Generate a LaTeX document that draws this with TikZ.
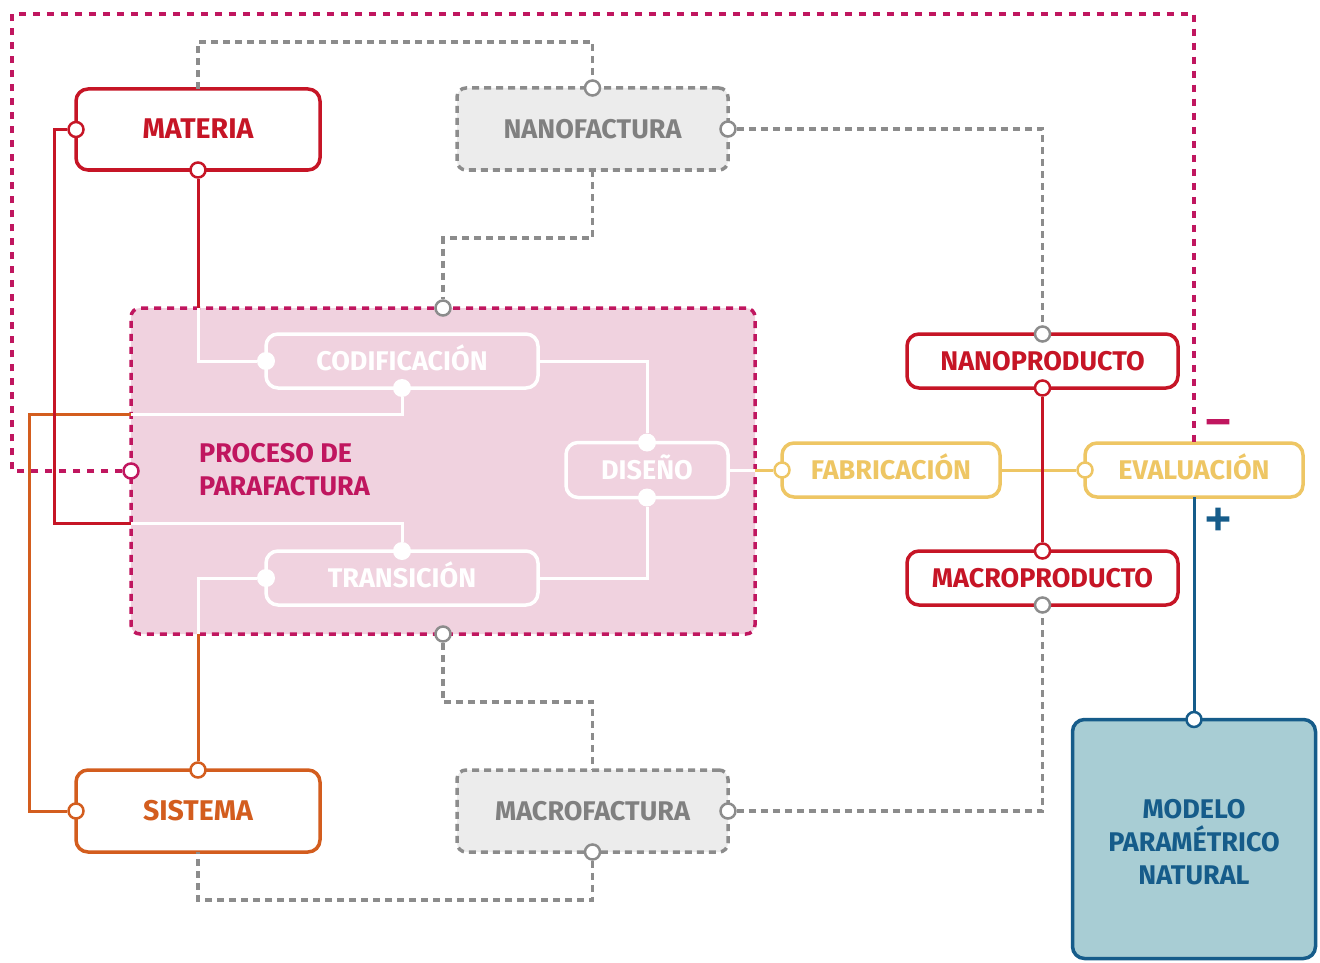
\documentclass[tikz,border=0pt]{standalone}
\usepackage{fontspec}
\setmainfont{Fira Sans}
\newfontfamily\signfont{DejaVu Sans}[FakeBold=4]
\definecolor{cred}{RGB}{198,21,38}
\definecolor{cmag}{RGB}{192,22,95}
\definecolor{cpink}{RGB}{240,210,223}
\definecolor{cgray}{RGB}{140,140,140}
\definecolor{cgfill}{RGB}{236,236,236}
\definecolor{cgtext}{RGB}{128,128,128}
\definecolor{corange}{RGB}{211,93,30}
\definecolor{cyellow}{RGB}{238,198,100}
\definecolor{cblue}{RGB}{22,92,138}
\definecolor{cbfill}{RGB}{168,205,212}
\begin{document}
\begin{tikzpicture}[x=1pt,y=-1pt,
  lbl/.style={font=\bfseries\fontsize{27}{33}\selectfont},
  biglbl/.style={font=\bfseries\fontsize{28.5}{33}\selectfont},
  capbox/.style={text height=19pt, text depth=0pt},
  card/.style={rectangle, rounded corners=12pt, line width=3.5pt, inner sep=0pt, outer sep=0pt, lbl},
  redcard/.style={card, capbox, draw=cred, fill=white, text=cred},
  orangecard/.style={card, capbox, draw=corange, fill=white, text=corange},
  yellowcard/.style={card, capbox, draw=cyellow, fill=white, text=cyellow},
  whitecard/.style={card, capbox, draw=white, text=white},
  graycard/.style={card, capbox, rounded corners=9pt, draw=cgray, fill=cgfill, text=cgtext, dash pattern=on 7pt off 5pt},
  bluecard/.style={card, draw=cblue, fill=cbfill, text=cblue, align=center},
  pinkbox/.style={rectangle, rounded corners=9pt, line width=3.5pt, inner sep=0pt, outer sep=0pt, draw=cmag, fill=cpink, dash pattern=on 7pt off 6pt},
  port/.style={circle, draw=#1, fill=white, line width=2.5pt, minimum size=15pt, inner sep=0pt},
  wport/.style={circle, fill=white, minimum size=18pt, inner sep=0pt},
  wire/.style={line width=3pt},
  gwire/.style={line width=3.5pt, draw=cgray, dash pattern=on 7pt off 5pt},
  mwire/.style={line width=3.5pt, draw=cmag, dash pattern=on 7pt off 7pt},
  sign/.style={font=\signfont\bfseries\fontsize{34}{34}\selectfont, inner sep=0pt}
]
\useasboundingbox (0,0) rectangle (1320,963);

% central process block
\node[pinkbox, minimum width=624pt, minimum height=326pt] (pp) at (443,471) {};
\node[lbl, text=cmag, align=left, anchor=west, inner sep=0pt] (ppl) at (199,470) {PROCESO DE\\PARAFACTURA};

% cards
\node[redcard, biglbl, minimum width=244pt, minimum height=81pt] (materia) at (198,129.5) {MATERIA};
\node[graycard, minimum width=271pt, minimum height=82pt] (nanof) at (592.5,129) {NANOFACTURA};
\node[whitecard, minimum width=272pt, minimum height=54pt] (codif) at (402,361) {CODIFICACIÓN};
\node[whitecard, minimum width=162pt, minimum height=55pt] (diseno) at (647,470) {DISEÑO};
\node[whitecard, minimum width=272pt, minimum height=54pt] (trans) at (402,578) {TRANSICIÓN};
\node[orangecard, biglbl, minimum width=244pt, minimum height=82pt] (sistema) at (198,811) {SISTEMA};
\node[graycard, minimum width=271pt, minimum height=82pt] (macrof) at (592.5,811) {MACROFACTURA};
\node[yellowcard, minimum width=218pt, minimum height=54pt] (fab) at (891,470) {FABRICACIÓN};
\node[yellowcard, minimum width=218pt, minimum height=54pt] (eval) at (1194,470) {EVALUACIÓN};
\node[redcard, minimum width=271pt, minimum height=54pt] (nanop) at (1042.5,361) {NANOPRODUCTO};
\node[redcard, minimum width=271pt, minimum height=54pt] (macrop) at (1042.5,578) {MACROPRODUCTO};
\node[bluecard, minimum width=243pt, minimum height=239pt] (modelo) at (1194,839) {};
\node[lbl, text=cblue, align=center, inner sep=0pt] (modtxt) at (1194,842) {MODELO\\PARAMÉTRICO\\NATURAL};

% ports
\node[port=cred] (mat-l) at (materia.west) {};
\node[port=cred] (mat-b) at (materia.south) {};
\node[port=cgray] (nf-t) at (nanof.north) {};
\node[port=cgray] (nf-r) at (nanof.east) {};
\node[port=cgray] (pp-t) at (pp.north) {};
\node[port=cgray] (pp-b) at (pp.south) {};
\node[port=cmag] (pp-l) at (pp.west) {};
\node[wport] (cod-l) at (codif.west) {};
\node[wport] (cod-b) at (codif.south) {};
\node[wport] (dis-t) at (diseno.north) {};
\node[wport] (dis-b) at (diseno.south) {};
\node[wport] (tr-t) at (trans.north) {};
\node[wport] (tr-l) at (trans.west) {};
\node[port=corange] (sis-t) at (sistema.north) {};
\node[port=corange] (sis-l) at (sistema.west) {};
\node[port=cgray] (mf-r) at (macrof.east) {};
\node[port=cgray] (mf-b) at (macrof.south) {};
\node[port=cyellow] (fab-l) at (fab.west) {};
\node[port=cyellow] (ev-l) at (eval.west) {};
\node[port=cgray] (np-t) at (nanop.north) {};
\node[port=cred] (np-b) at (nanop.south) {};
\node[port=cred] (mp-t) at (macrop.north) {};
\node[port=cgray] (mp-b) at (macrop.south) {};
\node[port=cblue] (mod-t) at (modelo.north) {};

% junctions on the border of the process block
\coordinate (jo) at (131,414);
\coordinate (jr) at (131,523);
\coordinate (jm) at (mat-b |- pp.north);
\coordinate (js) at (sis-t |- pp.south);
\coordinate (jd) at (diseno.east -| pp.east);

% grey dashed links
\draw[gwire] (materia.north) -- (198,42) -| (nf-t);
\draw[gwire] (nf-r) -| (np-t);
\draw[gwire] (nanof.south) -- (592.5,238) -| (pp-t);
\draw[gwire] (pp-b) -- (443,702) -| (macrof.north);
\draw[gwire] (mf-r) -| (mp-b);
\draw[gwire] (mf-b) -- (592.5,900) -| (sistema.south);

% orange links
\draw[wire, corange] (sis-l) -- (29,811) -- (29,414) -- (jo);
\draw[wire, corange] (sis-t) -- (js);

% red links
\draw[wire, cred] (mat-l) -- (54,129.5) -- (54,523) -- (jr);
\draw[wire, cred] (mat-b) -- (jm);

% white links inside the process block
\draw[wire, white] (jo) -| (cod-b);
\draw[wire, white] (jr) -| (tr-t);
\draw[wire, white] (jm) |- (cod-l);
\draw[wire, white] (js) |- (tr-l);
\draw[wire, white] (codif.east) -| (dis-t);
\draw[wire, white] (trans.east) -| (dis-b);
\draw[wire, white] (diseno.east) -- (jd);

% fabrication / evaluation
\draw[wire, cyellow] (jd) -- (fab-l);
\draw[wire, cyellow] (fab.east) -- (ev-l);
\draw[wire, cred] (np-b) -- (mp-t);

% feedback loops
\draw[mwire] (pp-l) -| (12,14) -| (eval.north);
\draw[wire, cblue] (eval.south) -- (mod-t);
\node[sign, text=cmag] (minus) at (1218,426) {−};
\node[sign, text=cblue] (plus) at (1218,519) {+};
\end{tikzpicture}
\end{document}
